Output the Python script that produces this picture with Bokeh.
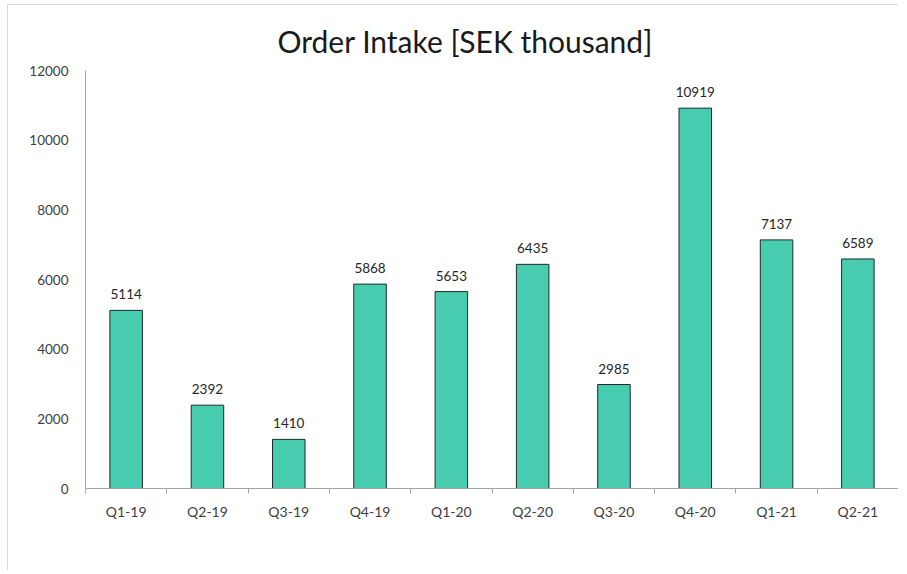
from bokeh.plotting import figure
from bokeh.models import ColumnDataSource, Range1d, FixedTicker, LabelSet
from bokeh.core.properties import value
from bokeh.embed import file_html
from bokeh.resources import INLINE

categories = ["Q1-19", "Q2-19", "Q3-19", "Q4-19", "Q1-20", "Q2-20", "Q3-20", "Q4-20", "Q1-21", "Q2-21"]
order_intake = [5114, 2392, 1410, 5868, 5653, 6435, 2985, 10919, 7137, 6589]
y_ticks = [0, 2000, 4000, 6000, 8000, 10000, 12000]
title_text = "Order Intake [SEK thousand]"

FONT = "Lato"
n = len(categories)
xs = [i + 0.5 for i in range(n)]
src = ColumnDataSource(dict(x=xs, top=order_intake, cat=categories,
                            lab=[str(v) for v in order_intake]))

p = figure(width=891, height=566, output_backend="svg", toolbar_location=None,
           x_range=Range1d(0, n), y_range=Range1d(0, 12000),
           min_border_left=77, min_border_right=1, min_border_top=65, min_border_bottom=83,
           background_fill_color="white", border_fill_color="white",
           styles={"border-left": "1px solid #d9d9d9", "border-top": "1px solid #d9d9d9",
                   "margin": "4px 0 0 7px"})
p.outline_line_color = None
p.xgrid.grid_line_color = None
p.ygrid.grid_line_color = None

p.title.text = title_text
p.title.align = "left"
p.title.offset = 192
p.title.text_font = FONT
p.title.text_font_size = "30px"
p.title.text_font_style = "normal"
p.title.text_color = "#1a1a1a"
p.title.standoff = 24

p.vbar(x="x", top="top", width=0.4, source=src, fill_color="#48CCB0",
       line_color="#1f2a28", line_width=1)

labels = LabelSet(x="x", y="top", text="lab", source=src, text_align="center",
                  text_baseline="bottom", y_offset=11, text_font=value(FONT),
                  text_font_size=value("13.5px"), text_color="#262626")
p.add_layout(labels)

# x axis: labels at centers, tick marks at category boundaries
p.xaxis.ticker = FixedTicker(ticks=xs, minor_ticks=list(range(n + 1)))
p.xaxis.major_label_overrides = {x: c for x, c in zip(xs, categories)}
p.xaxis.major_tick_line_color = None
p.xaxis.major_tick_out = 0
p.xaxis.major_tick_in = 0
p.xaxis.minor_tick_line_color = "#a6a6a6"
p.xaxis.minor_tick_out = 5
p.xaxis.minor_tick_in = 0
p.xaxis.axis_line_color = "#a6a6a6"
p.xaxis.major_label_standoff = 9
p.xaxis.major_label_text_font = FONT
p.xaxis.major_label_text_font_size = "14px"
p.xaxis.major_label_text_color = "#404040"

p.yaxis.ticker = FixedTicker(ticks=y_ticks)
p.yaxis.major_label_overrides = {t: str(t) for t in y_ticks}
p.yaxis.major_tick_line_color = None
p.yaxis.major_tick_out = 0
p.yaxis.major_tick_in = 0
p.yaxis.minor_tick_line_color = None
p.yaxis.axis_line_color = "#a6a6a6"
p.yaxis.major_label_standoff = 17
p.yaxis.major_label_text_font = FONT
p.yaxis.major_label_text_font_size = "13.5px"
p.yaxis.major_label_text_color = "#404040"

open("out.html", "w").write(file_html(p, INLINE))
